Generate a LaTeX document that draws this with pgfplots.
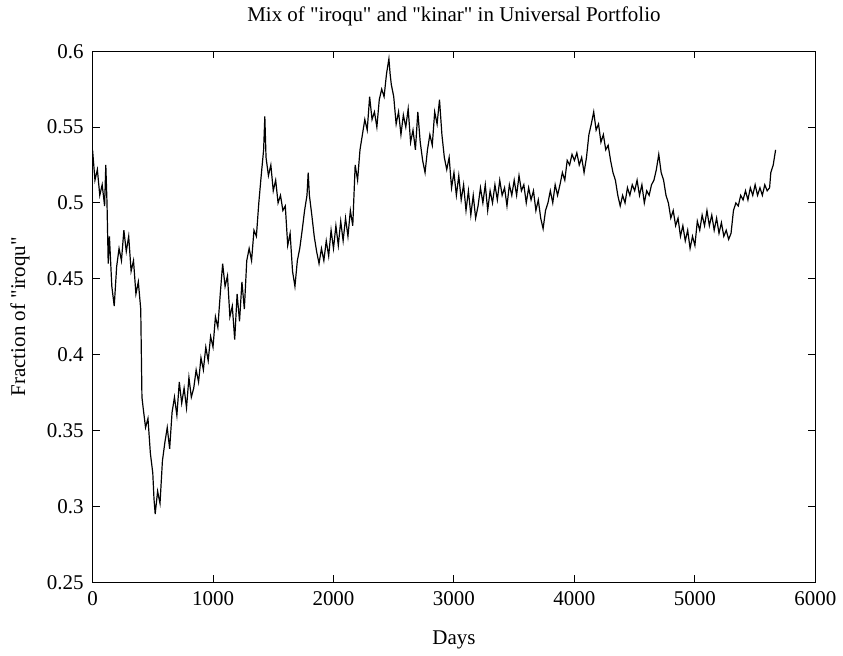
\documentclass[border=0pt]{standalone}
\usepackage{fontspec}
\setmainfont{Liberation Serif}
\usepackage{pgfplots}
\pgfplotsset{compat=1.18}
\usepackage{pgfplotstable}

\pgfplotstableread{
day frac
0 0.535
20 0.515
40 0.522
60 0.505
80 0.512
100 0.498
110 0.525
120 0.500
130 0.460
140 0.478
160 0.445
180 0.432
200 0.458
220 0.470
240 0.462
260 0.482
280 0.468
300 0.478
320 0.455
340 0.462
360 0.440
380 0.448
400 0.430
410 0.372
420 0.365
440 0.352
460 0.358
480 0.335
500 0.322
510 0.305
520 0.295
540 0.310
560 0.302
580 0.330
600 0.342
620 0.352
640 0.338
660 0.362
680 0.372
700 0.360
720 0.382
740 0.368
760 0.378
780 0.365
800 0.385
820 0.372
840 0.378
860 0.390
880 0.382
900 0.398
920 0.390
940 0.405
960 0.396
980 0.412
1000 0.405
1020 0.425
1040 0.418
1060 0.440
1080 0.460
1100 0.445
1120 0.452
1140 0.425
1160 0.432
1180 0.410
1200 0.440
1220 0.422
1240 0.448
1260 0.430
1280 0.462
1300 0.470
1320 0.462
1340 0.482
1360 0.478
1380 0.500
1400 0.518
1420 0.535
1430 0.557
1440 0.530
1460 0.518
1480 0.525
1500 0.508
1520 0.515
1540 0.500
1560 0.505
1580 0.495
1600 0.498
1620 0.472
1640 0.480
1660 0.455
1680 0.445
1700 0.462
1720 0.470
1740 0.482
1760 0.495
1780 0.505
1790 0.520
1800 0.505
1820 0.492
1840 0.478
1860 0.468
1880 0.460
1900 0.470
1920 0.462
1940 0.475
1960 0.465
1980 0.482
2000 0.470
2020 0.485
2040 0.472
2060 0.488
2080 0.475
2100 0.490
2120 0.478
2140 0.495
2160 0.485
2180 0.525
2200 0.515
2220 0.535
2240 0.545
2260 0.555
2280 0.548
2300 0.570
2320 0.555
2340 0.560
2360 0.550
2380 0.568
2400 0.575
2420 0.570
2440 0.585
2460 0.595
2470 0.585
2480 0.578
2500 0.570
2520 0.552
2540 0.560
2560 0.545
2580 0.558
2600 0.550
2620 0.562
2640 0.540
2660 0.548
2680 0.535
2700 0.560
2720 0.540
2740 0.528
2760 0.520
2780 0.535
2800 0.545
2820 0.538
2840 0.560
2860 0.552
2880 0.568
2900 0.545
2920 0.530
2940 0.522
2960 0.530
2980 0.510
3000 0.520
3020 0.505
3040 0.518
3060 0.502
3080 0.512
3100 0.495
3120 0.508
3140 0.492
3160 0.505
3180 0.490
3200 0.498
3220 0.510
3240 0.500
3260 0.512
3280 0.495
3300 0.508
3320 0.500
3340 0.512
3360 0.502
3380 0.515
3400 0.505
3420 0.510
3440 0.498
3460 0.512
3480 0.505
3500 0.515
3520 0.505
3540 0.518
3560 0.508
3580 0.512
3600 0.500
3620 0.510
3640 0.502
3660 0.508
3680 0.495
3700 0.502
3720 0.490
3740 0.483
3760 0.495
3780 0.500
3800 0.508
3820 0.500
3840 0.512
3860 0.505
3880 0.512
3900 0.520
3920 0.515
3940 0.528
3960 0.525
3980 0.532
4000 0.528
4020 0.533
4040 0.525
4060 0.530
4080 0.520
4100 0.530
4120 0.545
4140 0.552
4160 0.560
4180 0.548
4200 0.552
4220 0.540
4240 0.545
4260 0.535
4280 0.538
4300 0.528
4320 0.520
4340 0.515
4360 0.505
4380 0.498
4400 0.505
4420 0.500
4440 0.510
4460 0.505
4480 0.512
4500 0.508
4520 0.515
4540 0.505
4560 0.512
4580 0.500
4600 0.508
4620 0.505
4640 0.512
4660 0.515
4680 0.522
4700 0.532
4720 0.520
4740 0.515
4760 0.505
4780 0.500
4800 0.490
4820 0.495
4840 0.485
4860 0.490
4880 0.478
4900 0.485
4920 0.475
4940 0.482
4960 0.470
4980 0.478
5000 0.472
5020 0.488
5040 0.482
5060 0.492
5080 0.485
5100 0.495
5120 0.485
5140 0.492
5160 0.482
5180 0.490
5200 0.480
5220 0.487
5240 0.478
5260 0.482
5280 0.476
5300 0.480
5320 0.495
5340 0.500
5360 0.498
5380 0.505
5400 0.502
5420 0.508
5440 0.502
5460 0.510
5480 0.505
5500 0.512
5520 0.505
5540 0.510
5560 0.505
5580 0.512
5600 0.508
5620 0.510
5630 0.520
5650 0.525
5670 0.535
}\iroqu

\begin{document}
\begin{tikzpicture}
\begin{axis}[
    name=ax,
    scale only axis,
    width=362pt, height=266pt,
    xmin=0, xmax=6000,
    ymin=0.25, ymax=0.6,
    xtick={0,1000,...,6000},
    ytick={0.25,0.3,0.35,0.4,0.45,0.5,0.55,0.6},
    scaled ticks=false,
    /pgf/number format/set thousands separator={},
    /pgf/number format/assume math mode=true,
    tick align=inside,
    major tick length=3.5pt,
    axis line style={line width=0.5pt},
    tick style={line width=0.5pt, black},
    font=\fontsize{10.5}{12}\selectfont,
    title={Mix of \textquotedbl iroqu\textquotedbl{} and \textquotedbl kinar\textquotedbl{} in Universal Portfolio},
    title style={at={(axis description cs:0.5,1.0432)}, anchor=center},
    xlabel={Days},
    xlabel style={at={(axis description cs:0.5,-0.109)}, anchor=center},
    ylabel={Fraction of \textquotedbl iroqu\textquotedbl},
    ylabel style={at={(axis description cs:-0.1005,0.5)}, anchor=center},
    xticklabel style={yshift=-1pt},
    yticklabel style={xshift=-1pt},
]
\addplot[black, line width=0.6pt] table[x=day, y=frac] {\iroqu};
\end{axis}
\path (ax.south west) ++(-46.35pt,-36.5pt) rectangle ([shift={(13pt,20pt)}]ax.north east);
\end{tikzpicture}
\end{document}
